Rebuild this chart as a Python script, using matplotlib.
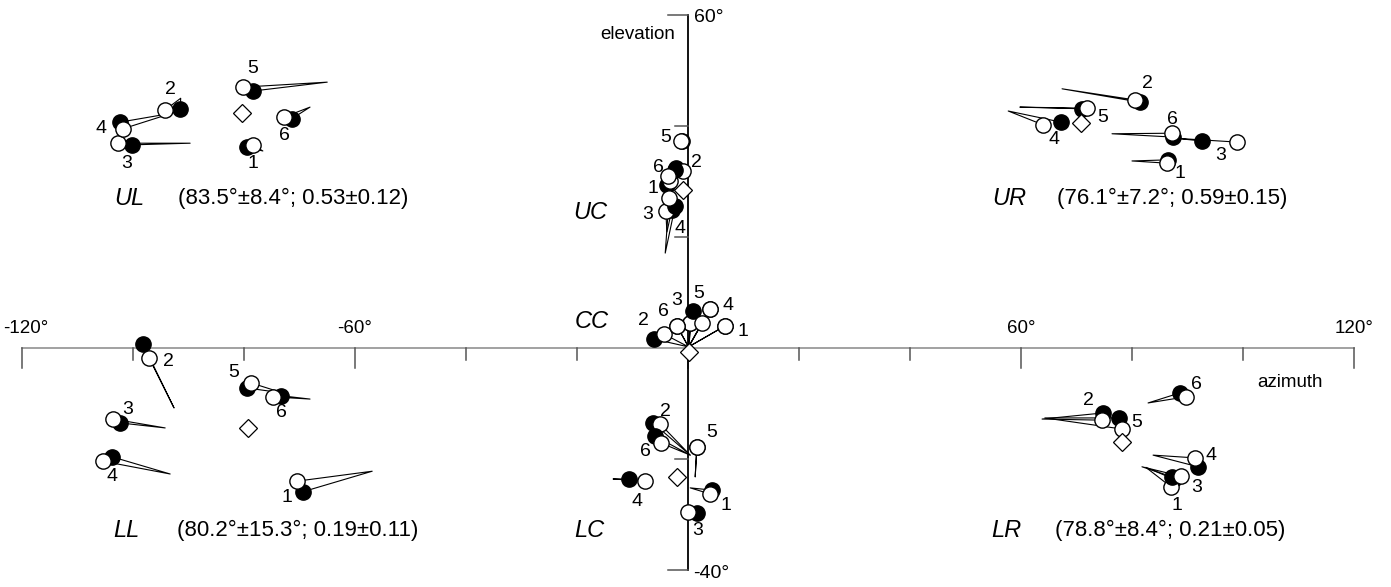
import numpy as np
import matplotlib.pyplot as plt

plt.rcParams['font.family'] = ['Liberation Sans', 'DejaVu Sans']

# azimuth / elevation (deg) of items 1..6 in each cluster
ul_open = [(-78.4, 36.6), (-94.2, 42.9), (-102.7, 36.9), (-101.8, 39.5), (-80.2, 47.0), (-72.8, 41.6)]
ul_fill = [(-79.5, 36.2), (-91.5, 43.1), (-100.2, 36.6), (-102.3, 40.7), (-78.4, 46.3), (-71.4, 41.3)]
ul_tail = [(-76.6, 35.5), (-91.4, 45.0), (-89.7, 36.9), (-93.0, 42.3), (-65.0, 47.9), (-68.1, 43.4)]
ul_mean = (-80.4, 42.3)

uc_open = [(-3.2, 30.0), (-0.9, 31.9), (-4.0, 24.7), (-3.4, 27.0), (-1.3, 37.3), (-3.6, 31.0)]
uc_fill = [(-3.8, 29.3), (-2.2, 32.4), (-2.9, 24.9), (-2.3, 25.6), (-1.0, 37.3), (-2.4, 32.0)]
uc_tail = [(-2.2, 29.0), (0.0, 31.7), (-3.8, 20.9), (-4.1, 17.1), (-1.3, 37.3), (-2.0, 31.5)]
uc_mean = (-0.9, 28.5)

ur_open = [(86.3, 33.3), (80.5, 44.7), (98.9, 37.1), (64.0, 40.2), (71.9, 43.2), (87.2, 38.7)]
ur_fill = [(86.5, 33.9), (81.4, 44.3), (92.6, 37.3), (67.2, 40.7), (71.0, 43.1), (87.4, 38.0)]
ur_tail = [(80.0, 33.7), (67.4, 46.7), (87.7, 37.8), (57.7, 42.7), (59.8, 43.4), (76.4, 38.6)]
ur_mean = (70.8, 40.5)

cc_open = [(6.7, 4.0), (-4.3, 2.5), (0.4, 4.5), (4.0, 7.0), (2.5, 4.5), (-2.0, 4.0)]
cc_fill = [(6.7, 4.0), (-6.1, 1.6), (0.4, 4.5), (4.0, 7.0), (0.9, 6.7), (-2.0, 4.0)]
cc_tail = [(0.1, 0.2)] * 6
cc_mean = (0.2, -0.7)

ll_open = [(-70.5, -24.0), (-97.1, -1.8), (-103.6, -12.8), (-105.4, -20.4), (-78.7, -6.3), (-74.8, -8.8)]
ll_fill = [(-69.4, -25.9), (-98.2, 0.7), (-102.3, -13.5), (-103.8, -19.6), (-79.5, -7.2), (-73.3, -8.6)]
ll_tail = [(-56.9, -22.2), (-92.6, -10.8), (-94.2, -14.4), (-93.3, -22.7), (-73.0, -8.1), (-68.1, -9.2)]
ll_mean = (-79.3, -14.4)

lc_open = [(4.0, -26.3), (-5.0, -13.7), (0.0, -29.5), (-7.7, -24.0), (1.6, -17.8), (-4.9, -17.1)]
lc_fill = [(4.3, -25.6), (-6.3, -13.5), (1.6, -29.7), (-10.6, -23.6), (1.6, -17.8), (-5.9, -15.9)]
lc_tail = [(0.4, -25.2), (0.4, -19.3), (1.6, -29.7), (-13.5, -23.6), (1.3, -23.2), (0.4, -19.3)]
lc_mean = (-2.0, -23.2)

lr_open = [(87.0, -25.0), (74.6, -13.0), (88.8, -23.1), (91.4, -19.8), (78.2, -14.6), (89.7, -8.8)]
lr_fill = [(87.5, -23.6), (74.8, -11.7), (87.2, -23.2), (91.9, -21.4), (77.7, -12.6), (88.6, -8.1)]
lr_tail = [(82.5, -21.5), (63.8, -12.8), (81.8, -21.4), (83.8, -19.3), (64.3, -12.6), (82.9, -9.9)]
lr_mean = (78.2, -16.9)

cluster_names = ['UL', 'UC', 'UR', 'CC', 'LL', 'LC', 'LR']
cluster_stats = ['(83.5°±8.4°; 0.53±0.12)', '', '(76.1°±7.2°; 0.59±0.15)', '',
                 '(80.2°±15.3°; 0.19±0.11)', '', '(78.8°±8.4°; 0.21±0.05)']
item_labels = ['1', '2', '3', '4', '5', '6']

# where the item numbers sit
ul_lab = [(-78.4, 33.3), (-93.2, 46.5), (-101.1, 33.3), (-105.8, 39.6), (-78.4, 50.3), (-72.8, 38.2)]
uc_lab = [(-6.3, 28.8), (1.6, 33.5), (-7.2, 24.0), (-1.4, 21.6), (-4.1, 38.0), (-5.4, 32.6)]
ur_lab = [(88.6, 31.5), (82.7, 47.7), (95.9, 34.6), (65.9, 37.5), (74.8, 41.6), (87.2, 41.1)]
cc_lab = [(9.9, 2.9), (-8.1, 4.9), (-2.0, 8.5), (7.2, 7.7), (2.0, 9.9), (-4.5, 6.5)]
ll_lab = [(-72.3, -27.0), (-93.7, -2.5), (-100.9, -11.0), (-103.8, -23.2), (-81.8, -4.5), (-73.2, -11.7)]
lc_lab = [(6.8, -28.3), (-4.1, -11.4), (1.8, -32.8), (-9.2, -27.7), (4.3, -15.3), (-7.6, -18.6)]
lr_lab = [(88.1, -28.3), (72.1, -9.4), (91.7, -25.2), (94.2, -19.3), (80.9, -13.5), (91.7, -6.5)]
name_pos = [(-103.4, 27.0), (-20.7, 24.5), (54.8, 27.0), (-20.4, 4.7),
            (-103.6, -32.8), (-20.4, -32.8), (54.6, -32.8)]

clusters = [
    (ul_open, ul_fill, ul_tail, ul_mean, ul_lab),
    (uc_open, uc_fill, uc_tail, uc_mean, uc_lab),
    (ur_open, ur_fill, ur_tail, ur_mean, ur_lab),
    (cc_open, cc_fill, cc_tail, cc_mean, cc_lab),
    (ll_open, ll_fill, ll_tail, ll_mean, ll_lab),
    (lc_open, lc_fill, lc_tail, lc_mean, lc_lab),
    (lr_open, lr_fill, lr_tail, lr_mean, lr_lab),
]

fig = plt.figure(figsize=(13.91, 5.87), dpi=100)
ax = fig.add_axes([0, 0, 1, 1])
ax.set_xlim(-123.96, 126.67)
ax.set_ylim(-43.06, 62.7)
ax.axis('off')

# axes
ax.plot([-120, 120], [0, 0], color='#9a9a9a', lw=1.3, zorder=1)
for t in range(-120, 121, 20):
    ln = 3.6 if t % 60 == 0 else 2.2
    ax.plot([t, t], [0, -ln], color='#555555', lw=1.1, zorder=1)
ax.plot([0, 0], [-40, 60], color='black', lw=1.3, zorder=1)
for t in [60, 40, 20, -20, -40]:
    ln = 3.6 if t in (60, -40) else 2.3
    ax.plot([-ln, 0], [t, t], color='#555555', lw=1.1, zorder=1)

for t in [-120, -60, 60, 120]:
    ax.text(max(t, -119.3), 2.0, f'{t}°', ha='center', va='bottom', fontsize=13.5)
ax.text(108.5, -6.3, 'azimuth', ha='center', va='center', fontsize=13.5)
ax.text(-2.4, 56.4, 'elevation', ha='right', va='center', fontsize=13.5)
ax.text(1.0, 59.6, '60°', ha='left', va='center', fontsize=14)
ax.text(1.0, -40.6, '-40°', ha='left', va='center', fontsize=14)

for k, (op, fi, ta, mn, lab) in enumerate(clusters):
    for i in range(6):
        ax.plot([op[i][0], ta[i][0], fi[i][0]], [op[i][1], ta[i][1], fi[i][1]],
                color='black', lw=0.8, zorder=2)
    for i in range(6):
        ax.plot(fi[i][0], fi[i][1], 'o', ms=11, mfc='black', mec='black', mew=1, zorder=3 + 2 * i)
        ax.plot(op[i][0], op[i][1], 'o', ms=11, mfc='white', mec='black', mew=1, zorder=4 + 2 * i)
        ax.text(lab[i][0], lab[i][1], item_labels[i], ha='center', va='center', fontsize=14, zorder=20)
    ax.plot(mn[0], mn[1], 'D', ms=9.5, mfc='white', mec='black', mew=0.9, zorder=16)
    ax.text(name_pos[k][0], name_pos[k][1], cluster_names[k], ha='left', va='center',
            fontsize=17, style='italic')
    if cluster_stats[k]:
        ax.text(name_pos[k][0] + 11.6, name_pos[k][1], cluster_stats[k], ha='left', va='center',
                fontsize=16)

fig.savefig('out.png', dpi=100)
